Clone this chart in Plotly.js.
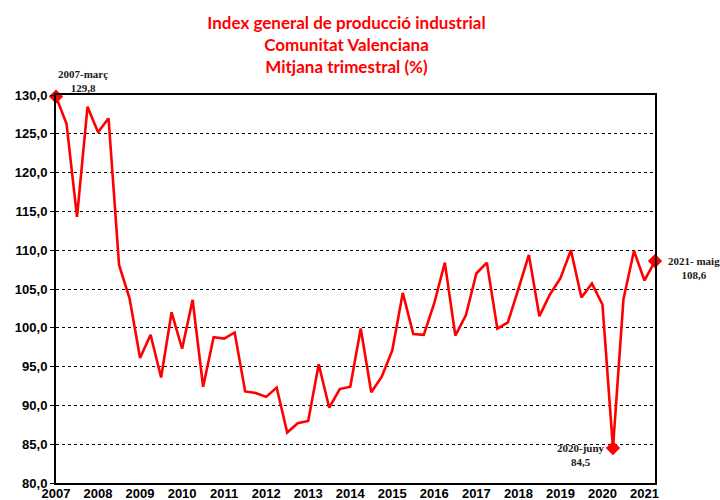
<!DOCTYPE html>
<html>
<head>
<meta charset="utf-8">
<script src="https://cdn.plot.ly/plotly-3.0.1.min.js"></script>
<style>html,body{margin:0;padding:0;background:#fff;}#chart{width:720px;height:500px;}</style>
</head>
<body>
<div id="chart"></div>
<script>
// Quarterly periods (2007 T1 ... 2021 maig)
var periods = [
  "2007 T1","2007 T2","2007 T3","2007 T4",
  "2008 T1","2008 T2","2008 T3","2008 T4",
  "2009 T1","2009 T2","2009 T3","2009 T4",
  "2010 T1","2010 T2","2010 T3","2010 T4",
  "2011 T1","2011 T2","2011 T3","2011 T4",
  "2012 T1","2012 T2","2012 T3","2012 T4",
  "2013 T1","2013 T2","2013 T3","2013 T4",
  "2014 T1","2014 T2","2014 T3","2014 T4",
  "2015 T1","2015 T2","2015 T3","2015 T4",
  "2016 T1","2016 T2","2016 T3","2016 T4",
  "2017 T1","2017 T2","2017 T3","2017 T4",
  "2018 T1","2018 T2","2018 T3","2018 T4",
  "2019 T1","2019 T2","2019 T3","2019 T4",
  "2020 T1","2020 T2","2020 T3","2020 T4",
  "2021 T1","2021 maig"
];
// Index values (mitjana trimestral)
var indexValues = [
  129.8, 126.3, 114.3, 128.5,
  125.2, 127.0, 108.1, 103.8,
  96.1, 99.1, 93.6, 102.0,
  97.3, 103.6, 92.4, 98.8,
  98.6, 99.4, 91.8, 91.6,
  91.1, 92.3, 86.5, 87.7,
  88.0, 95.3, 89.7, 92.1,
  92.4, 99.9, 91.7, 93.7,
  97.1, 104.5, 99.2, 99.1,
  103.2, 108.4, 99.0, 101.6,
  107.0, 108.4, 99.9, 100.7,
  105.0, 109.4, 101.5, 104.3,
  106.4, 110.0, 103.9, 105.7,
  103.0, 84.5, 103.7, 109.9,
  106.1, 108.6
];
// Year tick labels
var tickPeriods = ["2007 T1","2008 T1","2009 T1","2010 T1","2011 T1","2012 T1","2013 T1","2014 T1","2015 T1","2016 T1","2017 T1","2018 T1","2019 T1","2020 T1","2021 T1"];
var tickLabels = ["2007","2008","2009","2010","2011","2012","2013","2014","2015","2016","2017","2018","2019","2020","2021"];
// Highlighted points
var highlightIdx = [0, 53, 57];
var highlightNames = ["2007-març", "2020-juny", "2021- maig"];

var hx = highlightIdx.map(function(i){return periods[i];});
var hy = highlightIdx.map(function(i){return indexValues[i];});
function fmt(v){ return v.toFixed(1).replace('.', ','); }

var traces = [
  {
    x: periods, y: indexValues, type: 'scatter', mode: 'lines',
    line: {color: '#ff0000', width: 2.6},
    hoverinfo: 'x+y', showlegend: false
  },
  {
    x: hx, y: hy, type: 'scatter', mode: 'markers',
    marker: {symbol: 'diamond', size: 11, color: '#ff0000'},
    showlegend: false, cliponaxis: false
  }
];

var annFont = {family: 'Liberation Serif, Times New Roman, serif', size: 11, color: '#1a1a1a', weight: 'bold'};
var annotations = [
  {x: hx[0], y: hy[0], xref: 'x', yref: 'y', text: highlightNames[0] + '<br>' + fmt(hy[0]),
   showarrow: false, xanchor: 'center', yanchor: 'bottom', xshift: 27, yshift: 1, align: 'center', font: annFont},
  {x: hx[1], y: hy[1], xref: 'x', yref: 'y', text: highlightNames[1] + '<br>' + fmt(hy[1]),
   showarrow: false, xanchor: 'right', yanchor: 'top', xshift: -6, yshift: 8, align: 'center', font: annFont},
  {x: hx[2], y: hy[2], xref: 'x', yref: 'y', text: highlightNames[2] + '<br>' + fmt(hy[2]),
   showarrow: false, xanchor: 'left', yanchor: 'top', xshift: 11, yshift: 8, align: 'center', font: annFont}
];

var layout = {
  width: 720, height: 500,
  margin: {l: 56, r: 65, t: 95, b: 17, pad: 0},
  paper_bgcolor: '#ffffff', plot_bgcolor: '#ffffff',
  separators: ',.',
  title: {
    text: 'Index general de producció industrial<br>Comunitat Valenciana<br>Mitjana trimestral (%)',
    font: {family: 'Lato, Liberation Sans, sans-serif', size: 17, color: '#ff0000', weight: 'bold'},
    x: 0.485, xanchor: 'center', xref: 'paper',
    y: 0.943, yanchor: 'top', yref: 'container'
  },
  xaxis: {
    type: 'category',
    range: [0, periods.length - 1],
    tickvals: tickPeriods, ticktext: tickLabels,
    tickfont: {family: 'Liberation Sans, Arial, sans-serif', size: 13, color: '#000', weight: 'bold'},
    ticklabelstandoff: -3,
    showgrid: false, zeroline: false,
    showline: true, linecolor: '#000', linewidth: 2, mirror: true,
    ticks: '', ticklen: 0,
    automargin: false, fixedrange: true
  },
  yaxis: {
    range: [80, 130], dtick: 5, tick0: 80,
    tickformat: '.1f',
    tickfont: {family: 'Liberation Sans, Arial, sans-serif', size: 13, color: '#000', weight: 'bold'},
    showgrid: true, gridcolor: '#000', gridwidth: 1, griddash: 'dot',
    zeroline: false,
    showline: true, linecolor: '#000', linewidth: 2, mirror: true,
    ticks: 'outside', ticklen: 4, tickcolor: '#000',
    automargin: false, fixedrange: true
  },
  annotations: annotations,
  showlegend: false
};

Plotly.newPlot('chart', traces, layout, {displayModeBar: false, staticPlot: true});
</script>
</body>
</html>
